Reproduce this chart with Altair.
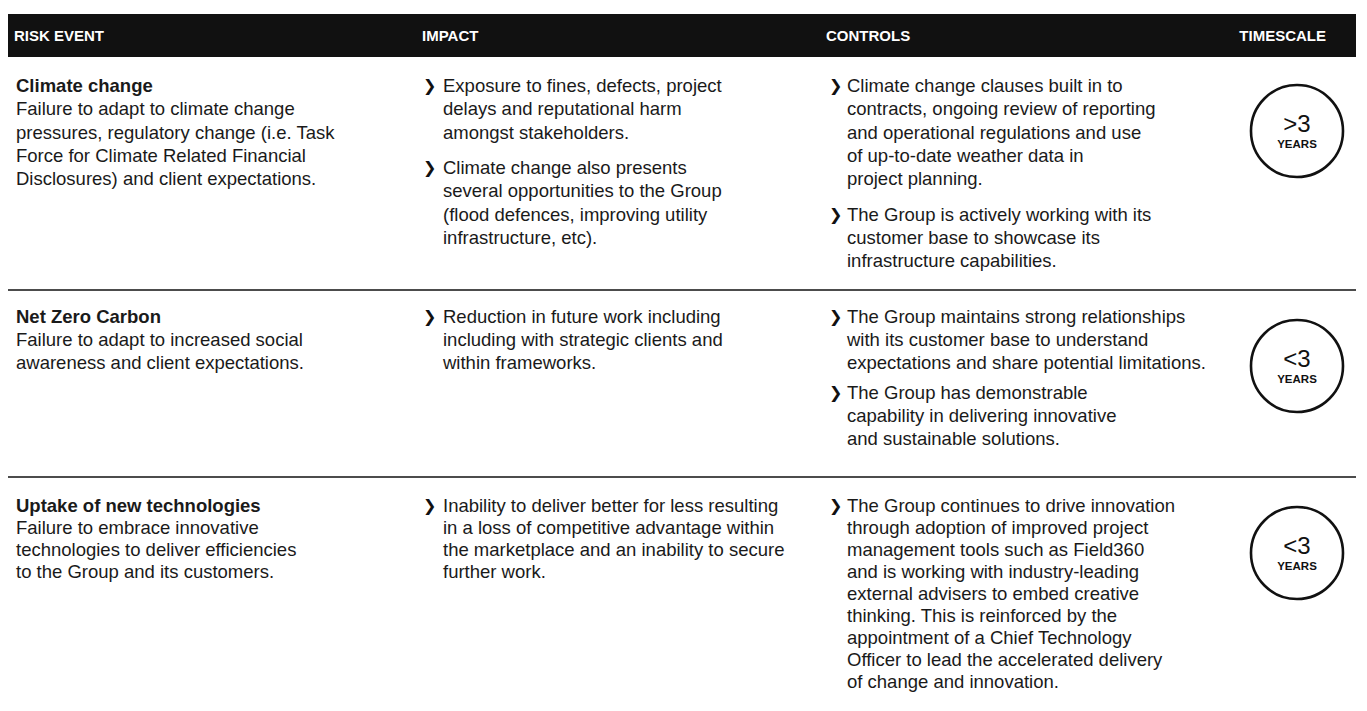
import altair as alt
import pandas as pd

# ---------------- content ----------------
headers = ["RISK EVENT", "IMPACT", "CONTROLS", "TIMESCALE"]

risk_titles = ["Climate change", "Net Zero Carbon", "Uptake of new technologies"]

risk_desc = [
    ["Failure to adapt to climate change",
     "pressures, regulatory change (i.e. Task",
     "Force for Climate Related Financial",
     "Disclosures) and client expectations."],
    ["Failure to adapt to increased social",
     "awareness and client expectations."],
    ["Failure to embrace innovative",
     "technologies to deliver efficiencies",
     "to the Group and its customers."],
]

impacts = [
    [["Exposure to fines, defects, project",
      "delays and reputational harm",
      "amongst stakeholders."],
     ["Climate change also presents",
      "several opportunities to the Group",
      "(flood defences, improving utility",
      "infrastructure, etc)."]],
    [["Reduction in future work including",
      "including with strategic clients and",
      "within frameworks."]],
    [["Inability to deliver better for less resulting",
      "in a loss of competitive advantage within",
      "the marketplace and an inability to secure",
      "further work."]],
]

controls = [
    [["Climate change clauses built in to",
      "contracts, ongoing review of reporting",
      "and operational regulations and use",
      "of up-to-date weather data in",
      "project planning."],
     ["The Group is actively working with its",
      "customer base to showcase its",
      "infrastructure capabilities."]],
    [["The Group maintains strong relationships",
      "with its customer base to understand",
      "expectations and share potential limitations."],
     ["The Group has demonstrable",
      "capability in delivering innovative",
      "and sustainable solutions."]],
    [["The Group continues to drive innovation",
      "through adoption of improved project",
      "management tools such as Field360",
      "and is working with industry-leading",
      "external advisers to embed creative",
      "thinking. This is reinforced by the",
      "appointment of a Chief Technology",
      "Officer to lead the accelerated delivery",
      "of change and innovation."]],
]

timescales = [">3", "<3", "<3"]
timescale_unit = "YEARS"

# ---------------- layout (page pixel coordinates) ----------------
W, H = 1348, 692
OFF = 8
ROW_FIRST = [86, 317, 506]
ROW_LH = [23.3, 22.8, 22.0]
BULLET_GAP = [12, 8, 8]
SEPS = [290, 477]
CIRCLE_Y = [131, 366, 553]
CIRCLE_X = 1297
COL_TEXT = [16, 443, 847]
COL_BULLET = [423, 829]
HEADER_X = [14, 422, 826, 1326]
BAR = (5, 1362, 14, 57)
FONT = "Liberation Sans, Arial, Helvetica, sans-serif"
FS = 18.5
INK = "#1a1a1a"

title_rows, body_rows, bullet_rows = [], [], []
for r in range(3):
    y0, lh = ROW_FIRST[r], ROW_LH[r]
    title_rows.append({"x": COL_TEXT[0], "y": y0, "t": risk_titles[r]})
    for i, line in enumerate(risk_desc[r]):
        body_rows.append({"x": COL_TEXT[0], "y": y0 + (i + 1) * lh, "t": line})
    for c, col in enumerate([impacts[r], controls[r]]):
        y = y0
        for b, bullet in enumerate(col):
            if b > 0:
                y += BULLET_GAP[r]
            bullet_rows.append({"x": COL_BULLET[c], "y": y, "t": "\u276f"})
            for line in bullet:
                body_rows.append({"x": COL_TEXT[c + 1], "y": y, "t": line})
                y += lh

hdr_df = pd.DataFrame({"x": HEADER_X, "y": [35.5] * 4, "t": headers,
                       "a": ["left", "left", "left", "right"]})
bar_df = pd.DataFrame([{"x": BAR[0], "x2": BAR[1], "y": BAR[2], "y2": BAR[3]}])
sep_df = pd.DataFrame({"x": [6, 6], "x2": [1362, 1362], "y": SEPS})
circ_df = pd.DataFrame({"x": [CIRCLE_X] * 3, "y": CIRCLE_Y, "t": timescales,
                        "u": [timescale_unit] * 3})
circ_df["yn"] = circ_df["y"] - 6
circ_df["yu"] = circ_df["y"] + 14

xs = alt.Scale(domain=[OFF, OFF + W], zero=False, nice=False)
ys = alt.Scale(domain=[OFF, OFF + H], zero=False, nice=False, reverse=True)


def X(f="x"):
    return alt.X(f"{f}:Q", scale=xs, axis=None)


def Y(f="y"):
    return alt.Y(f"{f}:Q", scale=ys, axis=None)


bar = alt.Chart(bar_df).mark_rect(color="#111111").encode(
    x=X(), x2="x2:Q", y=Y(), y2="y2:Q")

hdr_left = alt.Chart(hdr_df[hdr_df.a == "left"]).mark_text(
    font=FONT, fontSize=15, fontWeight="bold", color="white",
    align="left", baseline="middle").encode(x=X(), y=Y(), text="t:N")
hdr_right = alt.Chart(hdr_df[hdr_df.a == "right"]).mark_text(
    font=FONT, fontSize=15, fontWeight="bold", color="white",
    align="right", baseline="middle").encode(x=X(), y=Y(), text="t:N")

seps = alt.Chart(sep_df).mark_rule(color="#111111", strokeWidth=1.6).encode(
    x=X(), x2="x2:Q", y=Y())

titles = alt.Chart(pd.DataFrame(title_rows)).mark_text(
    font=FONT, fontSize=FS, fontWeight="bold", color=INK,
    align="left", baseline="middle").encode(x=X(), y=Y(), text="t:N")

body = alt.Chart(pd.DataFrame(body_rows)).mark_text(
    font=FONT, fontSize=FS, color=INK,
    align="left", baseline="middle").encode(x=X(), y=Y(), text="t:N")

bullets = alt.Chart(pd.DataFrame(bullet_rows)).mark_text(
    font="DejaVu Sans", fontSize=16, fontWeight="bold", color="#111111",
    align="left", baseline="middle").encode(x=X(), y=Y(), text="t:N")

circles = alt.Chart(circ_df).mark_point(
    shape="circle", filled=False, size=92 * 92, strokeWidth=2.6,
    color="#111111", opacity=1).encode(x=X(), y=Y())

nums = alt.Chart(circ_df).mark_text(
    font=FONT, fontSize=24, color="#111111",
    align="center", baseline="middle").encode(x=X(), y=Y("yn"), text="t:N")

units = alt.Chart(circ_df).mark_text(
    font=FONT, fontSize=11.5, fontWeight="bold", color="#111111",
    align="center", baseline="middle").encode(x=X(), y=Y("yu"), text="u:N")

chart = alt.layer(
    bar, hdr_left, hdr_right, seps, titles, body, bullets, circles, nums, units
).properties(
    width=W, height=H, padding=0, autosize="none", background="white"
).configure_view(strokeWidth=0)

chart.save("out.html", embed_options={"renderer": "svg", "actions": False})
